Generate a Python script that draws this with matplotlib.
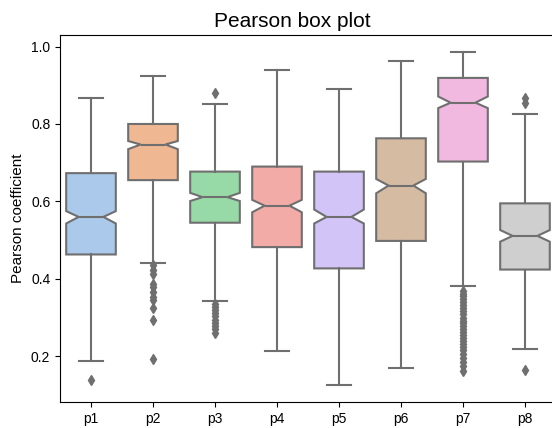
import colorsys
import matplotlib
matplotlib.use("Agg")
import matplotlib.pyplot as plt
import seaborn as sns

plt.rcParams['font.family'] = ['Liberation Sans', 'DejaVu Sans']

labels = ['p1', 'p2', 'p3', 'p4', 'p5', 'p6', 'p7', 'p8']
q1 = [0.463, 0.655, 0.545, 0.482, 0.427, 0.498, 0.703, 0.424]
med = [0.560, 0.747, 0.611, 0.589, 0.560, 0.641, 0.855, 0.511]
q3 = [0.673, 0.800, 0.677, 0.690, 0.677, 0.763, 0.919, 0.595]
cilo = [0.543, 0.735, 0.601, 0.572, 0.543, 0.621, 0.841, 0.496]
cihi = [0.575, 0.756, 0.622, 0.604, 0.579, 0.658, 0.871, 0.526]
whislo = [0.188, 0.441, 0.342, 0.214, 0.125, 0.170, 0.382, 0.218]
whishi = [0.867, 0.924, 0.852, 0.940, 0.891, 0.963, 0.986, 0.826]
fliers = [
    [0.140],
    [0.435, 0.423, 0.412, 0.388, 0.379, 0.366, 0.353, 0.345, 0.324, 0.295, 0.194],
    [0.879, 0.336, 0.328, 0.320, 0.312, 0.303, 0.295, 0.287, 0.279, 0.270, 0.259],
    [],
    [],
    [],
    [0.368, 0.362, 0.355, 0.348, 0.340, 0.333, 0.325, 0.318, 0.310, 0.300,
     0.292, 0.285, 0.278, 0.270, 0.262, 0.255, 0.247, 0.240, 0.232, 0.224,
     0.215, 0.205, 0.195, 0.185, 0.175, 0.163],
    [0.866, 0.854, 0.164],
]

stats = []
for i in range(len(labels)):
    stats.append(dict(q1=q1[i], med=med[i], q3=q3[i], cilo=cilo[i], cihi=cihi[i],
                      whislo=whislo[i], whishi=whishi[i], fliers=fliers[i], label=labels[i]))

colors = [sns.desaturate(c, 0.75) for c in sns.color_palette('pastel', 8)]
light = min(colorsys.rgb_to_hls(*c)[1] for c in colors)
gray = colorsys.hls_to_rgb(0, light * .6, 0)

fig = plt.figure(figsize=(5.52, 4.28), dpi=100)
ax = fig.add_axes([60/552, 26/428, 496/552, 366.7/428])

lp = dict(color=gray, linewidth=1.5)
bp = ax.bxp(stats, positions=range(len(labels)), widths=0.8, shownotches=True,
            patch_artist=True, boxprops=dict(edgecolor=gray, linewidth=1.5),
            whiskerprops=lp, capprops=lp, medianprops=lp,
            flierprops=dict(marker='d', markerfacecolor=gray, markeredgecolor=gray,
                            markersize=5, linestyle='none'))
for patch, c in zip(bp['boxes'], colors):
    patch.set_facecolor(c)

ax.set_xlim(-0.5, 7.5)
ax.margins(y=0.05)
ax.set_ylabel('Pearson coefficient', fontsize=11)
ax.set_title('Pearson box plot', fontsize=15, x=0.468)

fig.savefig('out.png', dpi=100)
